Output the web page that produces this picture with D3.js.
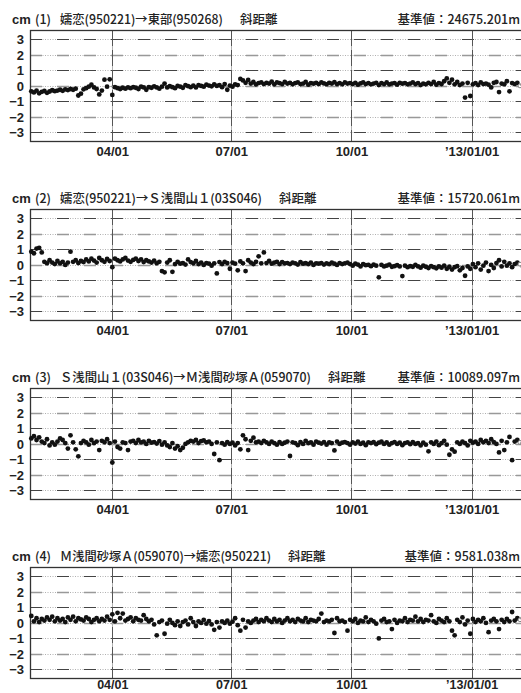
<!DOCTYPE html>
<html lang="ja">
<head>
<meta charset="UTF-8">
<title>GNSS baseline length change</title>
<script src="https://d3js.org/d3.v7.min.js"></script>
<style>
  html, body { margin: 0; padding: 0; background: #fff; overflow: hidden; }
  svg { display: block; }
  .jp { font-family: "Noto Sans CJK JP", "Noto Sans", sans-serif; font-weight: 500; }
  .num { font-family: "Liberation Sans Narrow", "Liberation Sans", "Noto Sans", sans-serif; }
</style>
</head>
<body>
<div id="chart"></div>
<script>
const startDate = new Date(2012, 0, 30);
const stepDays = 2;

const panelNo = ["(1)", "(2)", "(3)", "(4)"];
const lineNames = [
  "嬬恋(950221)→東部(950268)",
  "嬬恋(950221)→Ｓ浅間山１(03S046)",
  "Ｓ浅間山１(03S046)→Ｍ浅間砂塚Ａ(059070)",
  "Ｍ浅間砂塚Ａ(059070)→嬬恋(950221)"
];
const baseValues = ["24675.201m", "15720.061m", "10089.097m", "9581.038m"];

const yTicks = [-3, -2, -1, 0, 1, 2, 3];
const xTickDates = [new Date(2012, 3, 1), new Date(2012, 6, 1), new Date(2012, 9, 1), new Date(2013, 0, 1)];
const xTickLabels = ["04/01", "07/01", "10/01", "’13/01/01"];

const series1 = [
  -0.35,-0.42,-0.30,-0.48,-0.38,-0.33,-0.45,-0.36,-0.28,-0.34,
  -0.30,-0.25,-0.32,-0.22,-0.27,-0.20,-0.25,-0.18,-0.62,-0.50,
  -0.22,-0.15,-0.05,0.08,-0.10,-0.20,-0.55,-0.30,0.40,-0.05,
  0.42,-0.58,-0.08,-0.15,-0.20,-0.12,-0.18,-0.10,-0.15,-0.08,
  -0.12,-0.20,-0.05,-0.10,-0.25,-0.08,-0.12,-0.03,-0.10,-0.18,
  -0.05,0.15,-0.10,-0.02,-0.08,-0.15,0.00,-0.05,-0.12,0.05,
  -0.02,-0.08,0.02,-0.10,0.05,0.00,-0.05,0.08,0.02,-0.03,
  0.10,0.00,0.05,-0.08,0.12,-0.25,0.02,-0.05,0.10,0.05,
  0.45,0.35,0.20,0.38,0.15,0.25,0.10,0.18,0.22,0.12,
  0.20,0.15,0.28,0.10,0.22,0.18,0.12,0.25,0.15,0.20,
  0.10,0.18,0.22,0.12,0.15,0.25,0.08,0.18,0.14,0.20,
  0.12,0.22,0.16,0.10,0.20,0.15,0.24,0.12,0.18,0.10,
  0.22,0.15,0.18,0.12,0.20,0.08,0.16,0.22,0.12,0.18,
  0.10,0.15,0.20,0.05,0.18,0.12,0.22,0.10,0.15,0.18,
  0.08,0.20,0.14,0.18,0.10,0.15,0.22,0.12,0.18,0.05,
  0.15,0.10,0.20,0.12,0.25,0.08,0.18,0.12,0.30,0.48,
  0.20,0.40,0.10,0.25,0.05,0.15,-0.75,0.20,-0.65,0.10,
  0.18,0.05,0.22,0.12,0.15,0.08,-0.10,0.20,0.25,-0.40,
  0.15,0.10,0.30,-0.35,0.18,0.12,0.20
];
const series2 = [
  0.85,0.75,1.05,1.10,0.80,0.20,0.10,0.30,0.15,0.05,
  0.25,0.10,0.20,0.00,0.15,0.85,0.20,0.30,0.12,0.25,
  0.18,0.35,0.22,0.40,0.28,0.15,0.45,0.30,0.20,0.38,
  0.25,-0.15,0.40,0.30,0.22,0.35,0.45,0.28,0.20,0.32,
  0.40,0.25,0.35,0.18,0.30,0.22,0.15,0.28,0.10,0.20,
  -0.40,-0.48,0.15,0.30,-0.45,0.05,0.20,0.08,0.12,0.02,
  0.35,0.18,0.10,0.25,0.05,0.15,0.00,0.12,0.08,-0.05,
  0.10,-0.55,0.18,0.05,0.20,0.12,-0.25,0.15,0.08,-0.35,
  0.22,0.10,-0.40,0.30,0.15,0.05,0.20,0.55,0.10,0.80,
  0.12,0.25,0.08,0.15,0.20,0.05,0.18,0.10,0.12,0.05,
  0.15,0.10,0.02,0.18,0.08,0.12,0.05,0.15,0.00,0.10,
  0.08,0.12,0.02,0.10,0.05,0.15,0.08,0.00,0.12,0.05,
  0.10,0.15,0.05,-0.05,0.08,0.02,-0.10,0.05,-0.02,0.00,
  -0.08,0.02,-0.05,-0.80,0.00,-0.10,-0.05,0.02,-0.12,-0.08,
  -0.02,-0.10,-0.72,-0.05,-0.15,-0.08,-0.12,0.00,-0.10,-0.18,
  -0.05,-0.12,-0.20,-0.08,-0.15,-0.22,-0.10,-0.18,-0.05,-0.25,
  -0.12,-0.30,-0.15,-0.08,-0.35,-0.20,-0.70,-0.10,-0.25,0.05,
  -0.15,0.10,-0.30,-0.05,0.15,-0.40,0.00,-0.20,0.12,0.30,
  -0.10,0.20,-0.05,0.10,-0.15,0.05,0.15
];
const series3 = [
  0.35,0.50,0.25,0.42,0.15,0.05,0.30,-0.10,0.10,-0.05,
  0.15,0.35,0.25,0.05,-0.30,0.55,0.10,-0.35,-0.80,0.05,
  0.20,0.10,-0.05,0.25,0.05,0.15,-0.40,0.20,0.10,0.30,
  0.05,-1.20,0.15,-0.20,-0.30,0.10,0.05,-0.40,0.15,0.20,
  0.05,0.25,0.10,0.15,0.00,0.20,0.08,0.12,0.02,0.18,
  -0.05,0.10,-0.10,-0.20,0.05,-0.30,-0.15,-0.40,-0.25,0.00,
  0.10,0.20,0.15,0.25,0.05,0.18,0.22,0.10,0.15,0.00,
  -0.65,0.10,-1.05,0.05,-0.05,0.12,0.00,0.08,-0.10,0.05,
  -0.35,0.55,0.30,-0.40,0.20,0.40,0.10,0.15,0.05,0.20,
  0.10,0.00,0.15,0.05,-0.05,0.12,0.00,0.08,0.15,-0.78,
  0.10,0.05,-0.08,0.12,0.00,0.20,0.05,0.10,-0.05,0.15,
  0.08,0.02,0.12,-0.05,0.10,0.05,-0.42,0.15,0.00,0.08,
  0.12,0.05,-0.05,0.10,0.02,0.15,0.00,0.08,-0.08,0.10,
  0.05,0.12,-0.02,0.08,0.15,0.00,0.10,-0.05,0.05,0.12,
  0.00,0.08,-0.08,0.05,0.10,-0.02,0.12,0.00,0.05,-0.10,
  0.08,-0.05,-0.48,0.10,0.00,0.15,-0.08,0.05,0.20,-0.05,
  -0.70,-0.35,-0.50,0.10,0.00,0.15,0.05,-0.10,0.20,0.08,
  0.15,0.00,0.25,0.10,0.20,0.05,0.30,0.12,0.00,-0.55,
  0.20,-0.40,0.10,0.45,-1.05,0.15,0.25
];
const series4 = [
  0.45,0.10,0.30,0.05,0.25,0.15,0.35,0.20,0.40,0.10,
  0.30,0.15,0.25,0.05,0.35,0.20,0.40,0.10,0.30,0.22,
  0.15,0.35,0.25,0.05,0.20,0.30,0.10,0.25,0.15,0.40,
  0.20,0.55,0.10,0.65,0.30,0.60,0.15,0.25,0.35,0.10,
  0.30,0.20,0.15,0.50,0.25,0.10,0.20,-0.10,-0.80,0.05,
  0.15,-0.70,-0.05,0.20,0.00,-0.15,0.10,-0.20,0.05,0.15,
  -0.10,0.30,0.05,-0.20,0.10,0.00,0.20,-0.05,0.12,-0.10,
  -0.45,0.05,-0.30,0.10,0.00,0.15,-0.05,0.08,0.30,-0.15,
  -0.50,0.20,-0.30,0.10,0.00,0.15,0.25,0.05,0.20,0.10,
  0.30,0.15,0.05,0.25,0.10,0.20,0.00,0.15,0.30,0.10,
  0.20,0.05,0.25,0.15,0.10,0.30,0.05,0.20,0.15,0.10,
  0.25,0.60,0.05,0.15,0.10,0.20,-0.65,0.30,0.10,0.15,
  0.05,-0.50,0.20,0.10,0.25,0.00,0.15,0.10,0.35,0.05,
  0.20,0.10,-0.05,-1.00,0.15,0.25,0.05,0.10,-0.40,0.20,
  0.00,0.15,0.10,0.30,0.05,0.20,0.15,0.40,0.10,0.25,
  0.05,0.20,0.15,0.50,0.10,0.00,0.25,0.15,0.05,0.30,
  0.10,-0.50,-0.80,0.20,0.05,0.35,-0.10,0.15,-0.70,0.25,
  0.05,0.20,0.10,0.30,0.00,-0.60,0.15,0.25,0.10,-0.40,
  0.20,0.05,0.25,0.10,0.70,0.15,0.30
];
// provisional (open symbols) at the end of each series
const prov1 = [0.00, 0.08, -0.05];
const prov2 = [0.05, -0.10, 0.10];
const prov3 = [0.10, 0.05, 0.20];
const prov4 = [0.20, 0.30, 0.15];

const allSeries = [series1, series2, series3, series4];
const allProv = [prov1, prov2, prov3, prov4];

// --- layout ---
const W = 521, H = 693;
const plotLeft = 30, plotTop0 = 30, plotH = 111, panelStep = 179;
const pxPerDay = 1.3065;
const x0 = new Date(2012, 0, 29), x1 = new Date(2013, 1, 15);
const nameWidths = [163, 202, 251, 211];   // widths of the station text in the reference
const titleSize = "12.5px", tickSize = "13px";

const svg = d3.select("#chart").append("svg")
  .attr("width", W).attr("height", H)
  .attr("viewBox", [0, 0, W, H]);

const x = d3.scaleTime()
  .domain([x0, x1])
  .range([plotLeft, plotLeft + d3.timeDay.count(x0, x1) * pxPerDay]);
const plotRight = x.range()[1];

function drawPanel(k) {
  const top = plotTop0 + k * panelStep;
  const y = d3.scaleLinear().domain([-3.55, 3.6]).range([top + plotH, top]);
  const g = svg.append("g");

  // horizontal grid: light dotted base + darker dashes
  yTicks.forEach(t => {
    const even = t % 2 === 0;
    const yy = Math.round(y(t)) + 0.5;
    g.append("line")
      .attr("x1", plotLeft).attr("x2", plotRight).attr("y1", yy).attr("y2", yy)
      .attr("stroke", "#b0b0b0").attr("stroke-dasharray", "1,1.5");
    g.append("line")
      .attr("x1", plotLeft).attr("x2", plotRight).attr("y1", yy).attr("y2", yy)
      .attr("stroke", even ? "#999" : "#444")
      .attr("stroke-width", even ? 1.4 : 1)
      .attr("stroke-dasharray", "12,15");
  });

  // vertical grid at quarter starts
  xTickDates.forEach(d => {
    const xx = Math.round(x(d)) + 0.5;
    g.append("line")
      .attr("x1", xx).attr("x2", xx).attr("y1", top).attr("y2", top + plotH)
      .attr("stroke", "#b0b0b0");
    g.append("line")
      .attr("x1", xx).attr("x2", xx).attr("y1", top).attr("y2", top + plotH)
      .attr("stroke", "#555").attr("stroke-dasharray", "16,4");
  });

  // frame
  g.append("rect")
    .attr("x", plotLeft + 0.5).attr("y", top + 0.5)
    .attr("width", plotRight - plotLeft).attr("height", plotH)
    .attr("fill", "none").attr("stroke", "#333").attr("stroke-width", 1.3);

  // y axis labels
  g.append("g")
    .attr("transform", `translate(${plotLeft},0)`)
    .call(d3.axisLeft(y).tickValues(yTicks).tickSize(0).tickPadding(6).tickFormat(d3.format("d")))
    .call(a => a.select(".domain").remove())
    .call(a => a.selectAll("text").attr("class", "num")
      .style("font-size", tickSize).style("font-weight", "bold").attr("fill", "#222"));

  // x axis labels (the last panel sits tight against the page bottom)
  g.append("g")
    .attr("transform", `translate(0,${top + plotH})`)
    .call(d3.axisBottom(x).tickValues(xTickDates).tickSize(0).tickPadding(k === 3 ? 2 : 6)
      .tickFormat((d, i) => xTickLabels[i]))
    .call(a => a.select(".domain").remove())
    .call(a => a.selectAll("text").attr("class", "num")
      .style("font-size", k === 3 ? "12.5px" : tickSize).style("font-weight", "bold").attr("fill", "#222"));

  // points
  const pts = allSeries[k].map((v, i) => ({ date: d3.timeDay.offset(startDate, i * stepDays), v }));
  const last = pts[pts.length - 1].date;
  const prov = allProv[k].map((v, i) => ({ date: d3.timeDay.offset(last, (i + 1) * stepDays), v }));

  g.append("g").selectAll("circle").data(pts).join("circle")
    .attr("cx", d => x(d.date)).attr("cy", d => y(d.v))
    .attr("r", 2.4).attr("fill", "#111");

  g.append("g").selectAll("circle").data(prov).join("circle")
    .attr("cx", d => x(d.date)).attr("cy", d => y(d.v))
    .attr("r", 1.9).attr("fill", "#fff").attr("stroke", "#777").attr("stroke-width", 0.9);

  // title row
  const ty = top - 6;
  g.append("text").attr("class", "num").attr("x", 12).attr("y", ty)
    .style("font-size", tickSize).style("font-weight", "bold").attr("fill", "#222").text("cm");
  g.append("text").attr("class", "jp").attr("x", 35).attr("y", ty)
    .style("font-size", titleSize).attr("fill", "#222").text(panelNo[k]);
  g.append("text").attr("class", "jp").attr("x", 60).attr("y", ty)
    .attr("textLength", nameWidths[k]).attr("lengthAdjust", "spacingAndGlyphs")
    .style("font-size", titleSize).attr("fill", "#222").text(lineNames[k]);
  g.append("text").attr("class", "jp").attr("x", 60 + nameWidths[k] + 17).attr("y", ty)
    .style("font-size", titleSize).attr("fill", "#222").text("斜距離");
  g.append("text").attr("class", "jp").attr("x", W - 1).attr("y", ty)
    .attr("text-anchor", "end")
    .style("font-size", titleSize).attr("fill", "#222").text("基準値：" + baseValues[k]);
}

[0, 1, 2, 3].forEach(drawPanel);
</script>
</body>
</html>
